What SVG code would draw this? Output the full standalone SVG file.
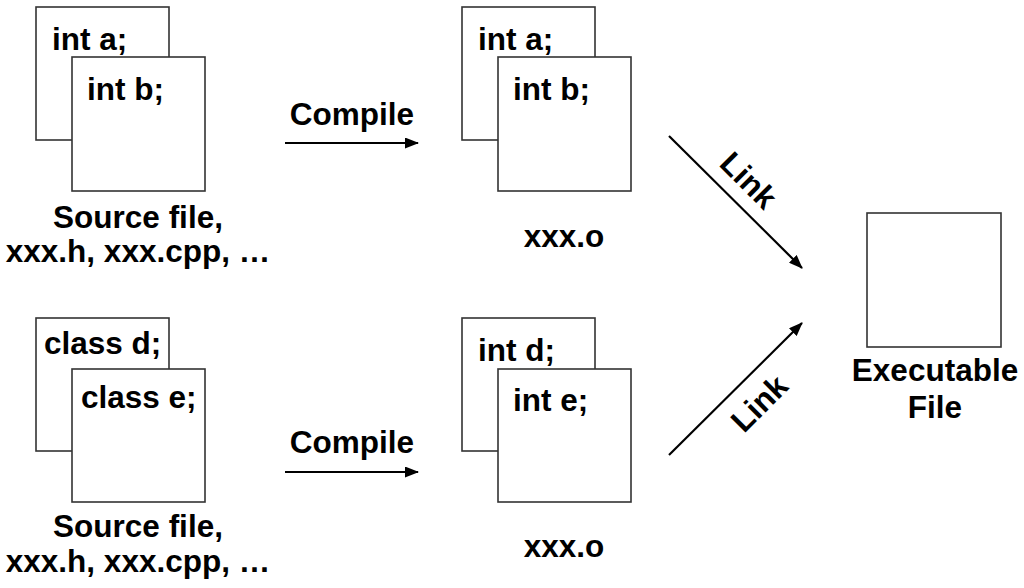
<svg xmlns="http://www.w3.org/2000/svg" width="1024" height="588" viewBox="0 0 1024 588">
<style>
.box{fill:#fff;stroke:#333;stroke-width:1.6}
.t{font-family:"Liberation Sans",Arial,sans-serif;font-weight:bold;font-size:31.5px;fill:#000}
.c{text-anchor:middle}
.ln{stroke:#000;stroke-width:2.2;fill:none}
</style>
<defs>
<marker id="ah" markerWidth="14" markerHeight="11" refX="13" refY="5.5" orient="auto" markerUnits="userSpaceOnUse">
<path d="M0,0 L14,5.5 L0,11 Z" fill="#000"/>
</marker>
</defs>
<rect width="1024" height="588" fill="#fff"/>
<g id="src1">
<rect class="box" x="36" y="7" width="133" height="133"/>
<text class="t" x="52" y="50">int a;</text>
<rect class="box" x="72" y="57" width="133" height="134"/>
<text class="t" x="87" y="100">int b;</text>
<text class="t c" x="138" y="228">Source file,</text>
<text class="t c" x="138" y="262">xxx.h, xxx.cpp, …</text>
</g>
<g id="obj1">
<rect class="box" x="462" y="7" width="133" height="133"/>
<text class="t" x="478" y="50">int a;</text>
<rect class="box" x="498" y="57" width="133" height="134"/>
<text class="t" x="513" y="100">int b;</text>
<text class="t c" x="564" y="247">xxx.o</text>
</g>
<g id="src2">
<rect class="box" x="36" y="318" width="133" height="133"/>
<text class="t" x="44" y="354">class d;</text>
<rect class="box" x="72" y="369" width="133" height="133"/>
<text class="t" x="81" y="408">class e;</text>
<text class="t c" x="138" y="537">Source file,</text>
<text class="t c" x="138" y="572">xxx.h, xxx.cpp, …</text>
</g>
<g id="obj2">
<rect class="box" x="462" y="318" width="133" height="133"/>
<text class="t" x="478" y="361">int d;</text>
<rect class="box" x="498" y="369" width="133" height="133"/>
<text class="t" x="513" y="411">int e;</text>
<text class="t c" x="564" y="557">xxx.o</text>
</g>
<g id="exe">
<rect class="box" x="867" y="213" width="134" height="134"/>
<text class="t c" x="935" y="381">Executable</text>
<text class="t c" x="935" y="418">File</text>
</g>
<g id="connectors">
<line class="ln" x1="285" y1="143" x2="418" y2="143" marker-end="url(#ah)"/>
<text class="t c" x="352" y="125">Compile</text>
<line class="ln" x1="285" y1="472" x2="418" y2="472" marker-end="url(#ah)"/>
<text class="t c" x="352" y="453">Compile</text>
<line class="ln" x1="669" y1="136" x2="802" y2="268" marker-end="url(#ah)"/>
<text class="t c" transform="translate(741,188) rotate(45)">Link</text>
<line class="ln" x1="669" y1="455" x2="802" y2="323" marker-end="url(#ah)"/>
<text class="t c" transform="translate(767,411) rotate(-45)">Link</text>
</g>
</svg>
